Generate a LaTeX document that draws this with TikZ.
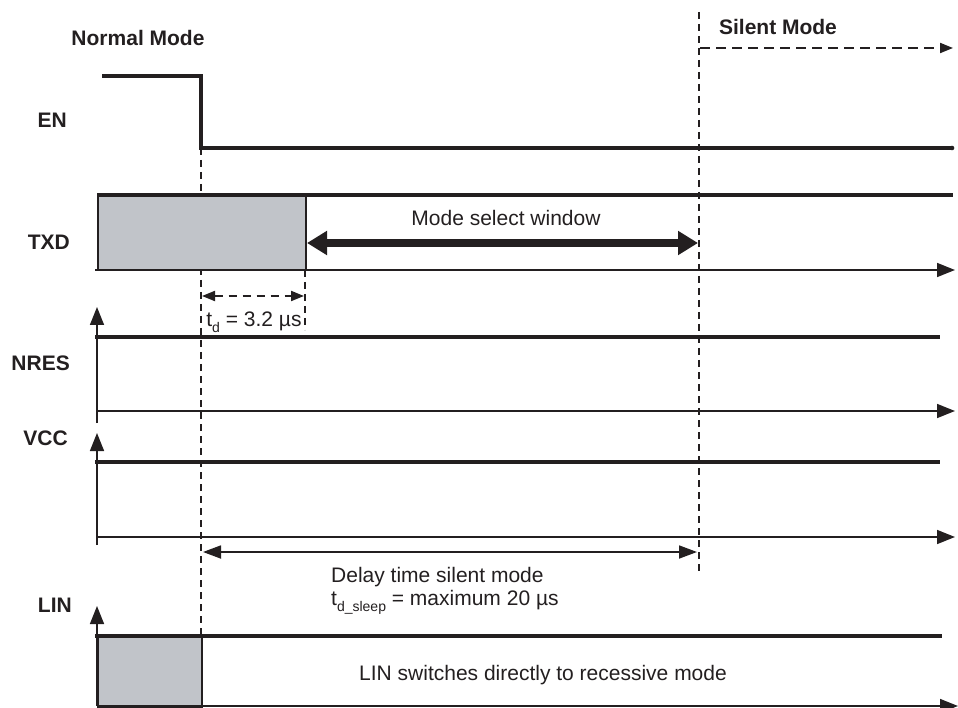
\documentclass[tikz,border=0pt]{standalone}
\usepackage{fontspec}
\setmainfont{Liberation Sans}
\usetikzlibrary{arrows.meta}
\definecolor{ink}{HTML}{231F20}
\definecolor{boxgray}{HTML}{C1C4C9}
\newcommand{\lowsub}[1]{\raisebox{-0.3em}{\fontsize{14}{14}\selectfont #1}}
\begin{document}
\begin{tikzpicture}[x=1pt,y=-1pt,
  every node/.style={text=ink,inner sep=0pt},
  plain/.style={font=\fontsize{21}{25}\selectfont},
  lbl/.style={font=\fontsize{21}{25}\selectfont\bfseries,anchor=east},
  hdr/.style={font=\fontsize{21}{25}\selectfont\bfseries},
  sig/.style={draw=ink,line width=4pt},
  axis/.style={draw=ink,line width=1.5pt,-{Triangle[length=18pt,width=14pt]}},
  guide/.style={draw=ink,line width=2pt,dash pattern=on 7pt off 5pt},
  shade/.style={fill=boxgray,draw=ink,line width=1.5pt,anchor=north west,inner sep=0pt}]
\useasboundingbox (0,0) rectangle (958,708);

% headers
\node[hdr] (normal) at (138,38) {Normal Mode};
\node[hdr] (silent) at (778,27) {Silent Mode};

% signal labels
\node[lbl] (lEN) at (67,120) {EN};
\node[lbl] (lTXD) at (70,242) {TXD};
\node[lbl] (lNRES) at (70,363) {NRES};
\node[lbl] (lVCC) at (68,438) {VCC};
\node[lbl] (lLIN) at (72,605) {LIN};

% guide lines
\coordinate (gA0) at (201,148);
\coordinate (gA1) at (201,636);
\coordinate (gB0) at (699,12);
\coordinate (gB1) at (699,572);
\coordinate (gC0) at (305,270);
\coordinate (gC1) at (305,330);
\draw[guide] (gA0) -- (gA1);
\draw[guide] (gB0) -- (gB1);
\draw[guide] (gC0) -- (gC1);

% silent mode arrow
\coordinate (sm0) at (700,48);
\coordinate (sm1) at (953,48);
\draw[draw=ink,line width=2pt,dash pattern=on 10pt off 6pt,-{Triangle[length=13pt,width=10pt]}] (sm0) -- (sm1);

% EN
\coordinate (en0) at (102,76);
\coordinate (en1) at (201,76);
\coordinate (en2) at (201,148);
\coordinate (en3) at (952,148);
\draw[sig,line join=miter] (en0) -- (en1) -- (en2) -- (en3);
\fill[ink] (en3) circle (2.3pt);

% TXD
\node[shade,minimum width=208pt,minimum height=75pt] (txdbox) at (97,195) {};
\coordinate (tx0) at (97,195);
\coordinate (tx1) at (953,195);
\draw[sig] (tx0) -- (tx1);
\coordinate (txa0) at (95,270);
\coordinate (txa1) at (955,270);
\draw[axis] (txa0) -- (txa1);
\coordinate (ms0) at (307,243);
\coordinate (ms1) at (698,243);
\draw[draw=ink,line width=8.5pt,{Triangle[length=20pt,width=23pt]}-{Triangle[length=20pt,width=23pt]}] (ms0) -- (ms1);
\node[plain] (mslbl) at (506,218) {Mode select window};

% t_d
\coordinate (td0) at (202,296);
\coordinate (td1) at (304,296);
\draw[draw=ink,line width=2pt,dash pattern=on 8pt off 6pt,{Triangle[length=13pt,width=10pt]}-{Triangle[length=13pt,width=10pt]}] (td0) -- (td1);
\node[plain] (tdlbl) at (254,322) {t\lowsub{d} = 3.2 µs};

% NRES
\coordinate (nv0) at (97,423);
\coordinate (nv1) at (97,307);
\draw[axis] (nv0) -- (nv1);
\coordinate (ns0) at (95,337);
\coordinate (ns1) at (940,337);
\draw[sig] (ns0) -- (ns1);
\coordinate (na0) at (97,411);
\coordinate (na1) at (955,411);
\draw[axis] (na0) -- (na1);

% VCC
\coordinate (vv0) at (97,545);
\coordinate (vv1) at (97,433);
\draw[axis] (vv0) -- (vv1);
\coordinate (vs0) at (95,462);
\coordinate (vs1) at (940,462);
\draw[sig] (vs0) -- (vs1);
\coordinate (va0) at (97,537);
\coordinate (va1) at (955,537);
\draw[axis] (va0) -- (va1);

% delay arrow
\coordinate (dl0) at (203,552);
\coordinate (dl1) at (697,552);
\draw[draw=ink,line width=1.8pt,{Triangle[length=18pt,width=13pt]}-{Triangle[length=18pt,width=13pt]}] (dl0) -- (dl1);
\node[plain,anchor=west] (dlt1) at (331,577) {Delay time silent mode};
\node[plain,anchor=west] (dlt2) at (331,602) {t\lowsub{d\_sleep} = maximum 20 µs};

% LIN
\node[shade,minimum width=104pt,minimum height=70pt] (linbox) at (97,636) {};
\coordinate (lv0) at (97,706);
\coordinate (lv1) at (97,606);
\draw[axis] (lv0) -- (lv1);
\coordinate (ls0) at (95,636);
\coordinate (ls1) at (942,636);
\draw[sig] (ls0) -- (ls1);
\coordinate (la0) at (97,706);
\coordinate (la1) at (958,706);
\draw[axis] (la0) -- (la1);
\node[plain] (linlbl) at (543,675) {LIN switches directly to recessive mode};
\end{tikzpicture}
\end{document}
